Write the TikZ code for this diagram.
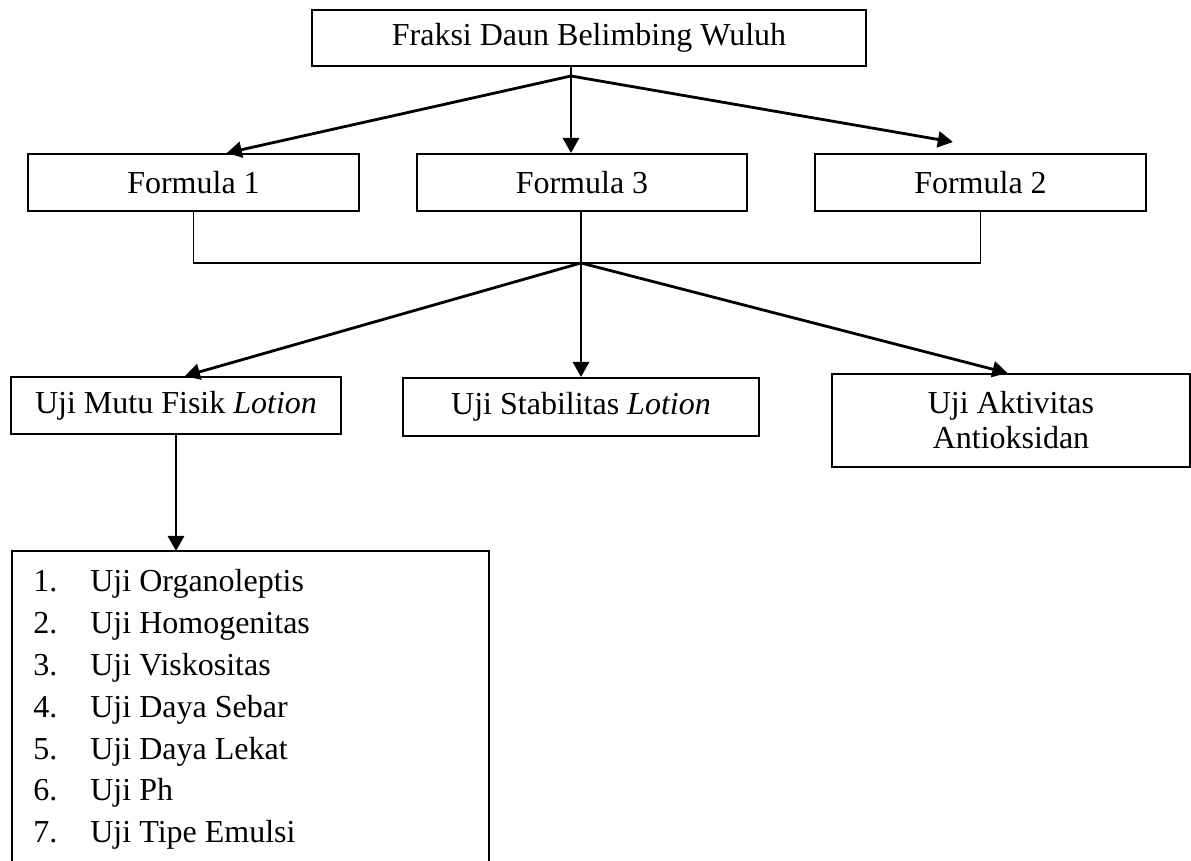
\documentclass[tikz,border=0pt]{standalone}
\usepackage{fontspec}
\setmainfont{Liberation Serif}
\usetikzlibrary{arrows.meta,calc,positioning}

\begin{document}
\begin{tikzpicture}[
        x=0.5pt, y=-0.5pt,
        every node/.style={font=\fontsize{16}{20.9}\selectfont},
        kotak/.style={draw, line width=1pt, align=center, inner sep=0pt},
        garis/.style={line width=0.8pt},
        panah/.style={line width=1.4pt, -{Triangle[length=7.5pt,width=8pt]}}
    ]
    \useasboundingbox (0,0) rectangle (1191,861);

    % Nodes
    \node[kotak, minimum width=277pt, minimum height=28pt] (fraksi) at (589,38) {Fraksi Daun Belimbing Wuluh};

    \node[kotak, minimum width=165.5pt, minimum height=28.5pt] (f1) at (193.5,182.5) {Formula 1};
    \node[kotak, minimum width=165pt, minimum height=28.5pt] (f3) at (582,182.5) {Formula 3};
    \node[kotak, minimum width=165.5pt, minimum height=28.5pt] (f2) at (980.5,182.5) {Formula 2};

    \node[kotak, minimum width=165pt, minimum height=28.5pt] (mutu) at (176,405.5) {Uji Mutu Fisik \textit{Lotion}};
    \node[kotak, minimum width=178pt, minimum height=29pt] (stabil) at (581,407) {Uji Stabilitas \textit{Lotion}};
    \node[kotak, minimum width=179pt, minimum height=46.5pt, font=\fontsize{16}{17.5}\selectfont] (antiok) at (1011,420.5) {Uji Aktivitas\\Antioksidan};

    \node[anchor=north west, minimum width=238pt, minimum height=155pt, inner sep=0pt] (daftarbox) at (12,551) {};
    \node[anchor=base west, inner sep=0pt] (daftar) at (33,592) {\begin{tabular}[t]{@{}p{28.5pt}@{}l@{}}
        1. & Uji Organoleptis \\
        2. & Uji Homogenitas \\
        3. & Uji Viskositas \\
        4. & Uji Daya Sebar \\
        5. & Uji Daya Lekat \\
        6. & Uji Ph \\
        7. & Uji Tipe Emulsi
    \end{tabular}};
    \draw[line width=1pt] (daftarbox.south west) -- (daftarbox.north west) -- (daftarbox.north east) -- (daftarbox.south east);

    % Edges
    \coordinate (cabang1) at (571,76);
    \coordinate (cabang2) at (581,263);

    \draw[garis] (cabang1 |- fraksi.south) -- (cabang1);
    \draw[panah] (cabang1) -- ($(f1.north west)!0.6!(f1.north east)$);
    \draw[panah] (cabang1) -- (cabang1 |- f3.north);
    \draw[panah] (cabang1) -- ($(f2.north west)!0.417!(f2.north east)+(0,-11)$);

    \draw[garis] (f1.south) |- (cabang2);
    \draw[garis] (f2.south) |- (cabang2);
    \draw[garis] (cabang2 |- f3.south) -- (cabang2);

    \draw[panah] (cabang2) -- ($(mutu.north west)!0.527!(mutu.north east)$);
    \draw[panah] (cabang2) -- (cabang2 |- stabil.north);
    \draw[panah] (cabang2) -- ($(antiok.north west)!0.49!(antiok.north east)$);

    \draw[panah] (mutu.south) -- (mutu.south |- daftarbox.north);

\end{tikzpicture}
\end{document}
